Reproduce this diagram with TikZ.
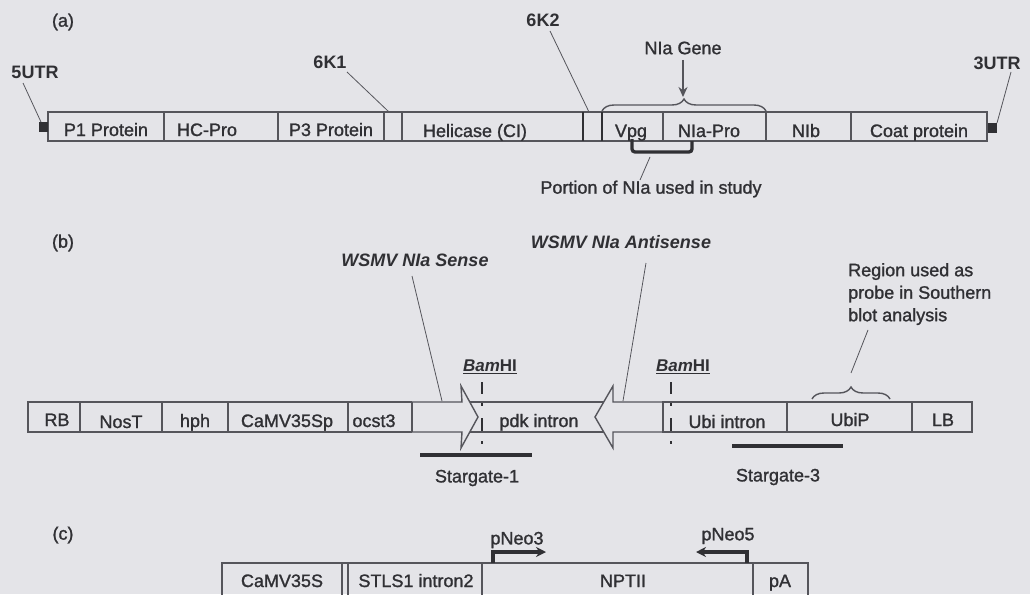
\documentclass[tikz,border=0pt]{standalone}
\usepackage{fontspec}
\setmainfont{Liberation Sans}
\newfontfamily\medsans{Liberation Sans}[FakeBold=1.3]
\usetikzlibrary{decorations.pathreplacing,arrows.meta}
\definecolor{bg}{RGB}{228,228,232}
\definecolor{ink}{RGB}{48,48,52}
\definecolor{ln}{RGB}{85,85,91}
\begin{document}
\begin{tikzpicture}[x=1pt,y=-1pt,
  every node/.style={inner sep=0pt, text=ink, font=\fontsize{18}{22.5}\selectfont\medsans},
  lbl/.style={anchor=base},
  blbl/.style={font=\fontsize{18}{22}\selectfont\bfseries},
  wsmv/.style={font=\fontsize{18}{22}\selectfont\bfseries\itshape},
  bar/.style={draw=ln, line width=1.4pt},
  thickdiv/.style={draw=ink, line width=2.8pt},
  leader/.style={draw=ln, line width=0.8pt},
  heavy/.style={draw=ink, line width=3.3pt},
  bam/.style={draw=ink, line width=2pt},
  brc/.style={draw=ln, line width=1.4pt, decorate, decoration={brace, amplitude=12pt}}]
\fill[bg] (0,0) rectangle (1030,594);
\useasboundingbox (0,0) rectangle (1030,594);
\clip (0,0) rectangle (1030,594);

% ---------------- (a) ----------------
\node (la) at (63,22) {(a)};
\draw[bar] (48,112) rectangle (987,141);
\foreach \x in {164,278,384,402,663,766,851} \draw[bar] (\x,112) -- (\x,141);
\draw[thickdiv] (583,112) -- (583,141);
\draw[thickdiv] (602,112) -- (602,141);
\fill[ink] (39,122) rectangle (48,132);
\fill[ink] (988,123) rectangle (997,133);
\node[lbl] (p1) at (106,136) {P1 Protein};
\node[lbl] (hc) at (207,136) {HC-Pro};
\node[lbl] (p3) at (331,136) {P3 Protein};
\node[lbl] (hel) at (475,137) {Helicase (CI)};
\node[lbl] (vpg) at (631,137) {Vpg};
\node[lbl] (nia) at (709,137) {NIa-Pro};
\node[lbl] (nib) at (806,137) {NIb};
\node[lbl] (cp) at (919,137) {Coat protein};

\node[blbl] (u5) at (35,72) {5UTR};
\coordinate (u5e) at (41,122);
\draw[leader] (23,83) -- (u5e);
\node[blbl] (k1) at (330,62) {6K1};
\coordinate (k1e) at (389,112);
\draw[leader] (347,72) -- (k1e);
\node[blbl] (k2) at (543,20) {6K2};
\coordinate (k2e) at (589,112);
\draw[leader] (550,31) -- (k2e);
\node[blbl] (u3) at (997,63) {3UTR};
\coordinate (u3e) at (997,123);
\draw[leader] (1011,72) -- (u3e);

\coordinate (bl) at (602,111);
\coordinate (br) at (766,111);
\draw[brc] (bl) -- (br);
\node (gene) at (683,48) {NIa Gene};
\coordinate (genetip) at (683,97);
\draw[ln, line width=1.4pt, -{Stealth[length=10pt,width=9pt]}] (683,60) -- (genetip);

\draw[heavy, rounded corners=3pt] (632,139) -- (632,152) -- (692,152) -- (692,141);
\node (portion) at (651,189) {Portion of NIa used in study};
\draw[leader] (650,157) -- (640,180);

% ---------------- (b) ----------------
\node (lb) at (63,243) {(b)};
\node[wsmv] (sense) at (415,260) {WSMV NIa Sense};
\node[wsmv] (anti) at (621,242) {WSMV NIa Antisense};
\node[anchor=north west, align=left] (region) at (848,263) {Region used as\\probe in Southern\\blot analysis};

\draw[bar] (412,402) -- (28,402) -- (28,432) -- (412,432);
\foreach \x in {80,162,228,348,412} \draw[bar] (\x,402) -- (\x,432);
% sense arrow
\draw[bar, line join=miter] (412,402) -- (462,402) -- (461,386) -- (478,417) -- (461,448) -- (462,432) -- (412,432);
% pdk intron box
\draw[bar] (470,402) -- (604,402);
\draw[bar] (470,432) -- (604,432);
% antisense arrow
\draw[bar, line join=miter] (663,402) -- (613,402) -- (613,386) -- (595,417) -- (613,448) -- (613,432) -- (663,432);
% right part
\draw[bar] (663,402) rectangle (972,432);
\foreach \x in {787,912} \draw[bar] (\x,402) -- (\x,432);

\node[lbl] (rb) at (57,426) {RB};
\node[lbl] (nost) at (121,428) {NosT};
\node[lbl] (hph) at (195,427) {hph};
\node[lbl] (camb) at (287,427) {CaMV35Sp};
\node[lbl] (ocs) at (374,427) {ocst3};
\node[lbl] (pdk) at (539,427) {pdk intron};
\node[lbl] (ubi) at (727,428) {Ubi intron};
\node[lbl] (ubip) at (850,426) {UbiP};
\node[lbl] (lbb) at (943,426) {LB};

\coordinate (senseend) at (442,401);
\draw[leader] (412,276) -- (senseend);
\coordinate (antiend) at (623,401);
\draw[leader] (646,263) -- (antiend);

% BamHI sites
\foreach \x/\t in {482/490, 671/683} {
  \draw[bam] (\x,382) -- (\x,394);
  \draw[bam] (\x,403) -- (\x,405.5);
  \draw[bam] (\x,418) -- (\x,431);
  \draw[bam] (\x,441) -- (\x,443.5);
  \node[font=\fontsize{17}{20}\selectfont\bfseries] at (\t,367) {\underline{\textit{Bam}HI}};
}

% probe brace
\draw[brc] (812,399) -- (890,399);
\coordinate (probetip) at (851,373);
\draw[leader] (probetip) -- (868,330);

% Stargate
\draw[heavy] (420,455) -- (532,455);
\node (sg1) at (477,478) {Stargate-1};
\draw[heavy] (732,446) -- (843,446);
\node (sg3) at (778,477) {Stargate-3};

% ---------------- (c) ----------------
\node (lc) at (63,535) {(c)};
\draw[bar] (222,563) rectangle (808,610);
\foreach \x in {342,348,482,753} \draw[bar] (\x,563) -- (\x,610);
\node[lbl] (c35) at (282,587) {CaMV35S};
\node[lbl] (stls) at (416,587) {STLS1 intron2};
\node[lbl] (npt) at (623,587) {NPTII};
\node[lbl] (pa) at (780,587) {pA};
\node (n3) at (517,540) {pNeo3};
\node (n5) at (728,536) {pNeo5};
\draw[heavy, -{Stealth[length=10pt,width=10pt]}] (493,563) -- (493,552) -- (546,552);
\draw[heavy, -{Stealth[length=10pt,width=10pt]}] (747,563) -- (747,552) -- (696,552);
\end{tikzpicture}
\end{document}
